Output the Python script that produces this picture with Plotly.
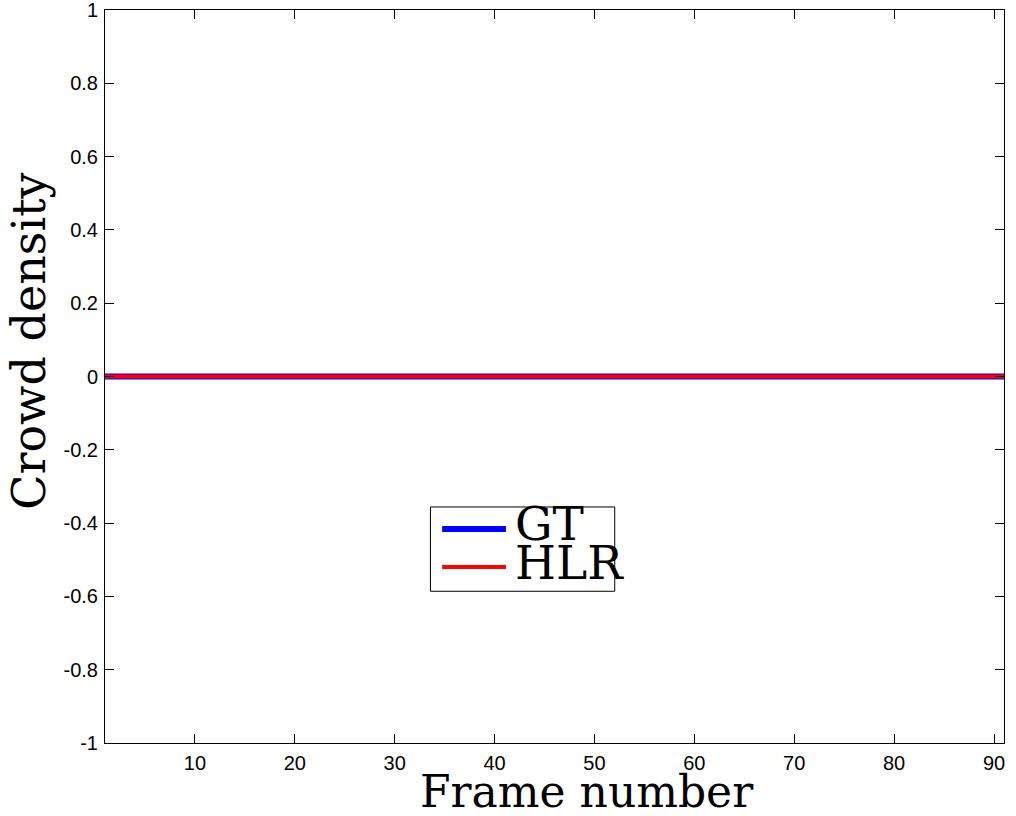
import plotly.graph_objects as go

# frame indices and the two (flat) density curves
frames = list(range(1, 92))
gt_density = [0.0] * 91
hlr_density = [0.0] * 91

x_ticks = [10, 20, 30, 40, 50, 60, 70, 80, 90]
y_ticks = [-1, -0.8, -0.6, -0.4, -0.2, 0, 0.2, 0.4, 0.6, 0.8, 1]
y_tick_text = ["-1", "-0.8", "-0.6", "-0.4", "-0.2", "0", "0.2", "0.4", "0.6", "0.8", "1"]

SERIF = "DejaVu Serif"
SANS = "Liberation Sans, Arial"

fig = go.Figure()
fig.add_trace(go.Scatter(x=frames, y=gt_density, mode="lines", name="GT",
                         line=dict(color="#0000ff", width=6), showlegend=False))
fig.add_trace(go.Scatter(x=frames, y=hlr_density, mode="lines", name="HLR",
                         line=dict(color="#ff0000", width=4), showlegend=False))

axis_common = dict(
    showgrid=False, zeroline=False, showline=True, linecolor="black", linewidth=1,
    mirror="ticks", ticks="inside", ticklen=9, tickcolor="black", tickwidth=1,
    tickfont=dict(family=SANS, size=20, color="black"), ticklabeloverflow="allow",
    automargin=False,
)
fig.update_xaxes(range=[1, 91], tickvals=x_ticks, ticklabelstandoff=2, **axis_common)
fig.update_yaxes(range=[-1, 1], tickvals=y_ticks, ticktext=y_tick_text,
                 ticklabelstandoff=2, **axis_common)

# hand-made MATLAB-style legend box
fig.add_shape(type="rect", xref="paper", yref="paper", x0=0.362, x1=0.567, y0=0.207, y1=0.322,
              line=dict(color="black", width=1), fillcolor="white", layer="above")
fig.add_shape(type="line", xref="paper", yref="paper", x0=0.375, x1=0.446, y0=0.292, y1=0.292,
              line=dict(color="#0000ff", width=6), layer="above")
fig.add_shape(type="line", xref="paper", yref="paper", x0=0.375, x1=0.446, y0=0.240, y1=0.240,
              line=dict(color="#ff0000", width=4), layer="above")
fig.add_annotation(text="GT", xref="paper", yref="paper", x=0.454, y=0.299,
                   xanchor="left", yanchor="middle", showarrow=False,
                   font=dict(family=SERIF, size=47, color="black"))
fig.add_annotation(text="HLR", xref="paper", yref="paper", x=0.454, y=0.246,
                   xanchor="left", yanchor="middle", showarrow=False,
                   font=dict(family=SERIF, size=47, color="black"))

# axis labels
fig.add_annotation(text="Frame number", xref="paper", yref="paper", x=0.5367, y=-0.029,
                   xanchor="center", yanchor="top", showarrow=False,
                   font=dict(family=SERIF, size=44, color="black"))
fig.add_annotation(text="Crowd density", xref="paper", yref="paper", x=-0.084, y=0.548,
                   xanchor="center", yanchor="middle", textangle=-90, showarrow=False,
                   font=dict(family=SERIF, size=46, color="black"))

fig.update_layout(
    width=1016, height=816,
    paper_bgcolor="white", plot_bgcolor="white",
    margin=dict(l=105, r=12, t=10, b=73),
    showlegend=False,
)

fig.write_html("out.html", config={"displayModeBar": False},
               post_script="document.body.style.margin='0';")
